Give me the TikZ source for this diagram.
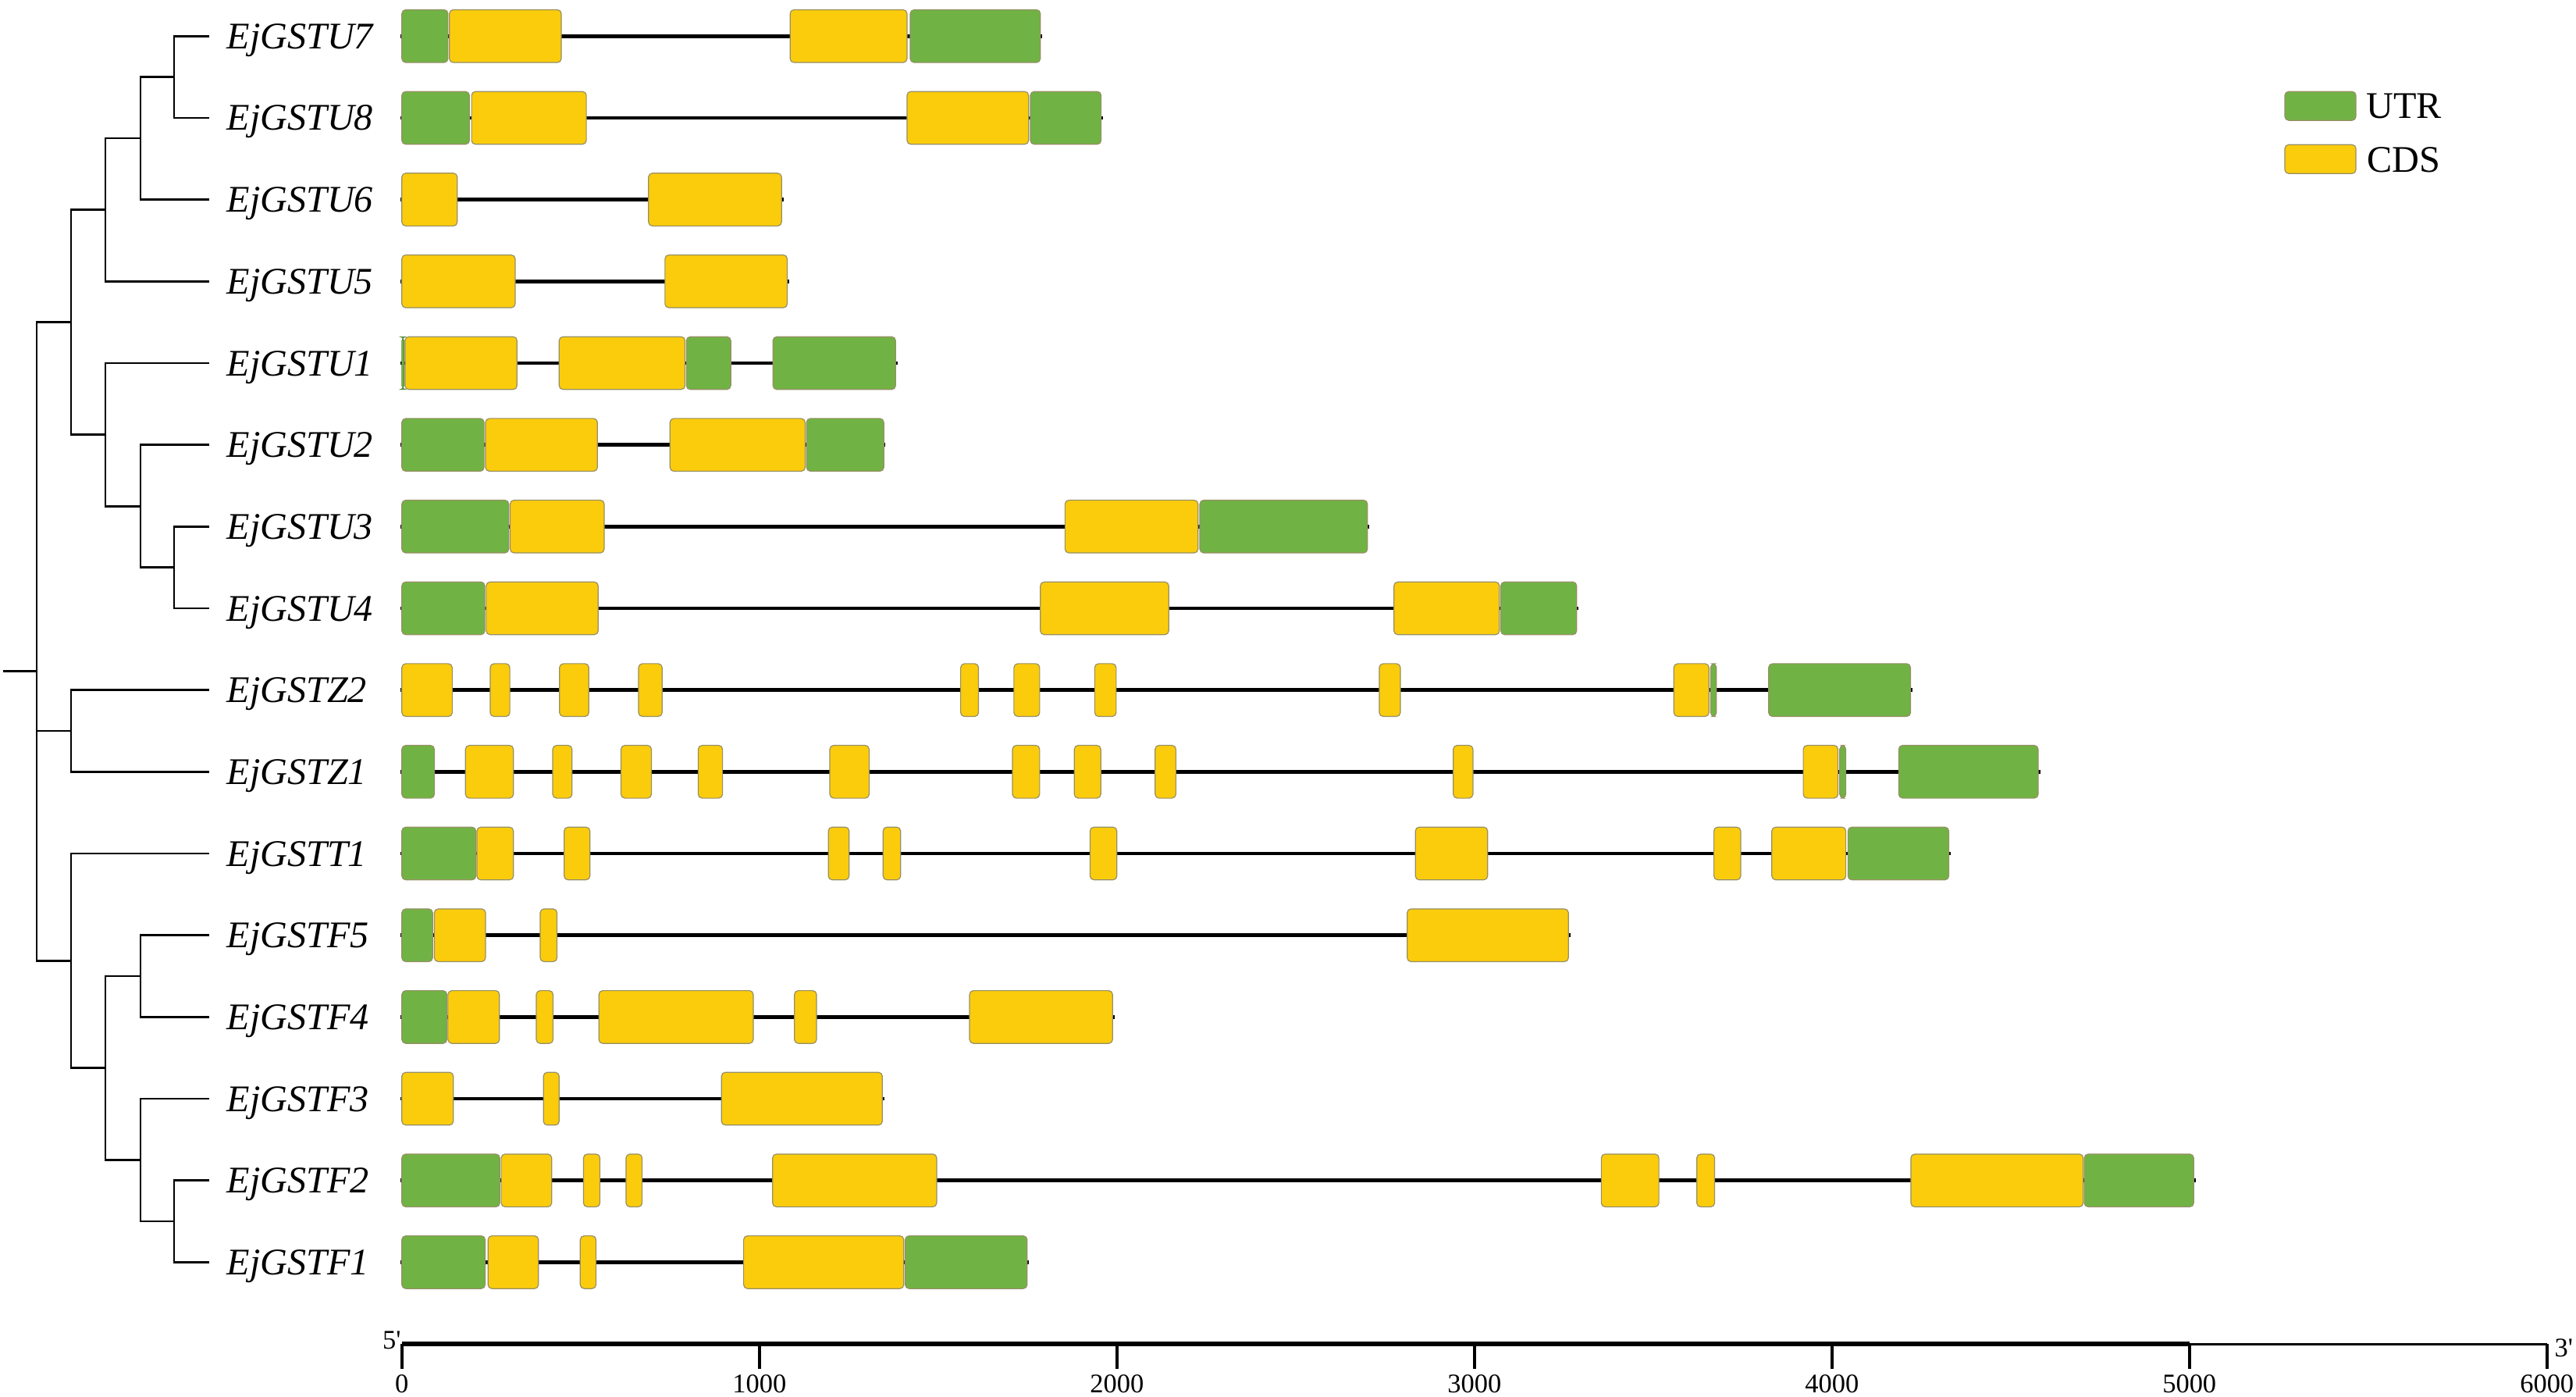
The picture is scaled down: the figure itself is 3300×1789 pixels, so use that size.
\documentclass[tikz,border=0pt]{standalone}
\usepackage{fontspec}
\setmainfont{Liberation Serif}
\usepackage{tikz}
\definecolor{utrgreen}{RGB}{112,179,68}
\definecolor{cdsyellow}{RGB}{251,204,12}
\definecolor{exonedge}{RGB}{150,143,100}

\begin{document}
\begin{tikzpicture}[x=0.01cm, y=-0.01cm,
    branch/.style={line width=0.028cm},
    intron/.style={line width=0.047cm},
    utr/.style={fill=utrgreen, draw=exonedge, line width=0.012cm, rounded corners=0.05cm},
    cds/.style={fill=cdsyellow, draw=exonedge, line width=0.012cm, rounded corners=0.05cm},
    gene/.style={anchor=west, inner xsep=0.22cm, inner ysep=0pt, text height=0.32cm, text depth=0pt,
        font=\fontsize{13.7}{16}\selectfont\itshape},
    legendtext/.style={anchor=base west, inner sep=0pt, font=\fontsize{13.7}{16}\selectfont},
    ticklabel/.style={inner sep=0pt, font=\fontsize{9.8}{12}\selectfont}]
            \useasboundingbox (0,0) rectangle (3300,1789);

            % leaves
            \node[gene] (U7) at (268,46.3) {EjGSTU7};
            \node[gene] (U8) at (268,151.0) {EjGSTU8};
            \node[gene] (U6) at (268,255.6) {EjGSTU6};
            \node[gene] (U5) at (268,360.3) {EjGSTU5};
            \node[gene] (U1) at (268,465.0) {EjGSTU1};
            \node[gene] (U2) at (268,569.7) {EjGSTU2};
            \node[gene] (U3) at (268,674.3) {EjGSTU3};
            \node[gene] (U4) at (268,779.0) {EjGSTU4};
            \node[gene] (Z2) at (268,883.7) {EjGSTZ2};
            \node[gene] (Z1) at (268,988.3) {EjGSTZ1};
            \node[gene] (T1) at (268,1093.0) {EjGSTT1};
            \node[gene] (F5) at (268,1197.7) {EjGSTF5};
            \node[gene] (F4) at (268,1302.4) {EjGSTF4};
            \node[gene] (F3) at (268,1407.0) {EjGSTF3};
            \node[gene] (F2) at (268,1511.7) {EjGSTF2};
            \node[gene] (F1) at (268,1616.4) {EjGSTF1};

            % inner nodes of the tree
            \coordinate (nU78) at (223,98.65);
            \coordinate (nU786) at (180,177.1);
            \coordinate (nU7865) at (135,268.7);
            \coordinate (nU34) at (223,726.7);
            \coordinate (nU234) at (180,648.2);
            \coordinate (nU1234) at (135,556.6);
            \coordinate (nU) at (91,412.6);
            \coordinate (nZ) at (91,936.0);
            \coordinate (nF21) at (223,1564.0);
            \coordinate (nF321) at (180,1485.5);
            \coordinate (nF54) at (180,1250.0);
            \coordinate (nF) at (135,1367.8);
            \coordinate (nTF) at (91,1230.4);
            \coordinate (root) at (47,859.7);
            \coordinate (stub) at (3.5,859.7);

            \draw[branch] (stub) -- (root);
            \draw[branch] (root) |- (nU);
            \draw[branch] (root) |- (nZ);
            \draw[branch] (root) |- (nTF);
            \draw[branch] (nU) |- (nU7865);
            \draw[branch] (nU) |- (nU1234);
            \draw[branch] (nU7865) |- (nU786);
            \draw[branch] (nU7865) |- (U5.west);
            \draw[branch] (nU786) |- (nU78);
            \draw[branch] (nU786) |- (U6.west);
            \draw[branch] (nU78) |- (U7.west);
            \draw[branch] (nU78) |- (U8.west);
            \draw[branch] (nU1234) |- (U1.west);
            \draw[branch] (nU1234) |- (nU234);
            \draw[branch] (nU234) |- (U2.west);
            \draw[branch] (nU234) |- (nU34);
            \draw[branch] (nU34) |- (U3.west);
            \draw[branch] (nU34) |- (U4.west);
            \draw[branch] (nZ) |- (Z2.west);
            \draw[branch] (nZ) |- (Z1.west);
            \draw[branch] (nTF) |- (T1.west);
            \draw[branch] (nTF) |- (nF);
            \draw[branch] (nF) |- (nF54);
            \draw[branch] (nF) |- (nF321);
            \draw[branch] (nF54) |- (F5.west);
            \draw[branch] (nF54) |- (F4.west);
            \draw[branch] (nF321) |- (F3.west);
            \draw[branch] (nF321) |- (nF21);
            \draw[branch] (nF21) |- (F2.west);
            \draw[branch] (nF21) |- (F1.west);

            % gene structures, x in bp
            \begin{scope}[shift={(514.8,0)}, x=0.004574cm]
                \begin{scope}[shift={(0,46.3)}] % EjGSTU7
                    \draw[intron] (-5,0) -- (1791,0);
                    \foreach \xa/\xb in {0/129,1422/1786} \draw[utr] (\xa,-33.8) rectangle (\xb,33.8);
                    \foreach \xa/\xb in {133/446,1086/1413} \draw[cds] (\xa,-33.8) rectangle (\xb,33.8);
                \end{scope}
                \begin{scope}[shift={(0,151.0)}] % EjGSTU8
                    \draw[intron] (-5,0) -- (1961,0);
                    \foreach \xa/\xb in {0/189,1758/1956} \draw[utr] (\xa,-33.8) rectangle (\xb,33.8);
                    \foreach \xa/\xb in {195/516,1413/1753} \draw[cds] (\xa,-33.8) rectangle (\xb,33.8);
                \end{scope}
                \begin{scope}[shift={(0,255.6)}] % EjGSTU6
                    \draw[intron] (-5,0) -- (1068,0);
                    \foreach \xa/\xb in {0/155,690/1062} \draw[cds] (\xa,-33.8) rectangle (\xb,33.8);
                \end{scope}
                \begin{scope}[shift={(0,360.3)}] % EjGSTU5
                    \draw[intron] (-5,0) -- (1083,0);
                    \foreach \xa/\xb in {0/317,736/1078} \draw[cds] (\xa,-33.8) rectangle (\xb,33.8);
                \end{scope}
                \begin{scope}[shift={(0,465.0)}] % EjGSTU1
                    \draw[intron] (-5,0) -- (1386,0);
                    \draw[utr, draw=utrgreen!75!black, line width=0.008cm] (0,-33.8) rectangle (6,33.8);
                    \foreach \xa/\xb in {796/920,1038/1381} \draw[utr] (\xa,-33.8) rectangle (\xb,33.8);
                    \foreach \xa/\xb in {9/322,440/792} \draw[cds] (\xa,-33.8) rectangle (\xb,33.8);
                \end{scope}
                \begin{scope}[shift={(0,569.7)}] % EjGSTU2
                    \draw[intron] (-5,0) -- (1353,0);
                    \foreach \xa/\xb in {0/230,1132/1348} \draw[utr] (\xa,-33.8) rectangle (\xb,33.8);
                    \foreach \xa/\xb in {234/547,750/1128} \draw[cds] (\xa,-33.8) rectangle (\xb,33.8);
                \end{scope}
                \begin{scope}[shift={(0,674.3)}] % EjGSTU3
                    \draw[intron] (-5,0) -- (2706,0);
                    \foreach \xa/\xb in {0/299,2232/2701} \draw[utr] (\xa,-33.8) rectangle (\xb,33.8);
                    \foreach \xa/\xb in {303/566,1855/2227} \draw[cds] (\xa,-33.8) rectangle (\xb,33.8);
                \end{scope}
                \begin{scope}[shift={(0,779.0)}] % EjGSTU4
                    \draw[intron] (-5,0) -- (3291,0);
                    \foreach \xa/\xb in {0/232,3074/3286} \draw[utr] (\xa,-33.8) rectangle (\xb,33.8);
                    \foreach \xa/\xb in {236/549,1786/2145,2775/3070} \draw[cds] (\xa,-33.8) rectangle (\xb,33.8);
                \end{scope}
                \begin{scope}[shift={(0,883.7)}] % EjGSTZ2
                    \draw[intron] (-5,0) -- (4226,0);
                    \foreach \xa/\xb in {3661/3677,3823/4220} \draw[utr] (\xa,-33.8) rectangle (\xb,33.8);
                    \foreach \xa/\xb in {0/141,247/302,441/523,662/728,1563/1613,1712/1784,1938/1998,2734/2793,3558/3656}
                        \draw[cds] (\xa,-33.8) rectangle (\xb,33.8);
                \end{scope}
                \begin{scope}[shift={(0,988.3)}] % EjGSTZ1
                    \draw[intron] (-5,0) -- (4583,0);
                    \foreach \xa/\xb in {0/91,4022/4039,4187/4577} \draw[utr] (\xa,-33.8) rectangle (\xb,33.8);
                    \foreach \xa/\xb in {178/312,422/476,613/698,829/897,1197/1307,1708/1784,1881/1955,2107/2165,2941/2996,3920/4017}
                        \draw[cds] (\xa,-33.8) rectangle (\xb,33.8);
                \end{scope}
                \begin{scope}[shift={(0,1093.0)}] % EjGSTT1
                    \draw[intron] (-5,0) -- (4333,0);
                    \foreach \xa/\xb in {0/207,4045/4327} \draw[utr] (\xa,-33.8) rectangle (\xb,33.8);
                    \foreach \xa/\xb in {210/312,454/526,1193/1251,1346/1395,1925/2000,2835/3037,3670/3745,3832/4039}
                        \draw[cds] (\xa,-33.8) rectangle (\xb,33.8);
                \end{scope}
                \begin{scope}[shift={(0,1197.7)}] % EjGSTF5
                    \draw[intron] (-5,0) -- (3268,0);
                    \foreach \xa/\xb in {0/86} \draw[utr] (\xa,-33.8) rectangle (\xb,33.8);
                    \foreach \xa/\xb in {91/234,387/434,2812/3263} \draw[cds] (\xa,-33.8) rectangle (\xb,33.8);
                \end{scope}
                \begin{scope}[shift={(0,1302.4)}] % EjGSTF4
                    \draw[intron] (-5,0) -- (1993,0);
                    \foreach \xa/\xb in {0/126} \draw[utr] (\xa,-33.8) rectangle (\xb,33.8);
                    \foreach \xa/\xb in {129/273,376/423,551/983,1098/1160,1588/1988} \draw[cds] (\xa,-33.8) rectangle (\xb,33.8);
                \end{scope}
                \begin{scope}[shift={(0,1407.0)}] % EjGSTF3
                    \draw[intron] (-5,0) -- (1349,0);
                    \foreach \xa/\xb in {0/144,396/440,894/1344} \draw[cds] (\xa,-33.8) rectangle (\xb,33.8);
                \end{scope}
                \begin{scope}[shift={(0,1511.7)}] % EjGSTF2
                    \draw[intron] (-5,0) -- (5018,0);
                    \foreach \xa/\xb in {0/274,4706/5012} \draw[utr] (\xa,-33.8) rectangle (\xb,33.8);
                    \foreach \xa/\xb in {278/419,508/554,627/672,1037/1496,3355/3516,3622/3672,4221/4703}
                        \draw[cds] (\xa,-33.8) rectangle (\xb,33.8);
                \end{scope}
                \begin{scope}[shift={(0,1616.4)}] % EjGSTF1
                    \draw[intron] (-5,0) -- (1754,0);
                    \foreach \xa/\xb in {0/233,1408/1749} \draw[utr] (\xa,-33.8) rectangle (\xb,33.8);
                    \foreach \xa/\xb in {241/382,499/543,956/1404} \draw[cds] (\xa,-33.8) rectangle (\xb,33.8);
                \end{scope}

                % scale bar
                \coordinate (ax0) at (0,1721);
                \coordinate (ax5) at (5000,1721);
                \coordinate (ax6) at (6000,1721);
                \draw[line width=0.055cm] (ax0) -- (ax5);
                \draw[line width=0.03cm] (ax5) -- (ax6);
                \foreach \t in {0,1000,...,6000} {
                    \draw[line width=0.035cm] (\t,1721) -- (\t,1753);
                    \node[ticklabel, anchor=north] (tick\t) at (\t,1760) {\t};
                }
                \node[ticklabel, anchor=base east] (end5) at (-1,1727) {5\textquotesingle};
                \node[ticklabel, anchor=base west] (end3) at (6020,1737) {3\textquotesingle};
            \end{scope}

            % legend
            \node[utr, minimum width=0.91cm, minimum height=0.37cm, inner sep=0pt] (keyUTR) at (2972.5,135.7) {};
            \node[cds, minimum width=0.91cm, minimum height=0.37cm, inner sep=0pt] (keyCDS) at (2972.5,203.8) {};
            \node[legendtext] (txtUTR) at (3031,151.7) {UTR};
            \node[legendtext] (txtCDS) at (3032,221) {CDS};
        \end{tikzpicture}
\end{document}
